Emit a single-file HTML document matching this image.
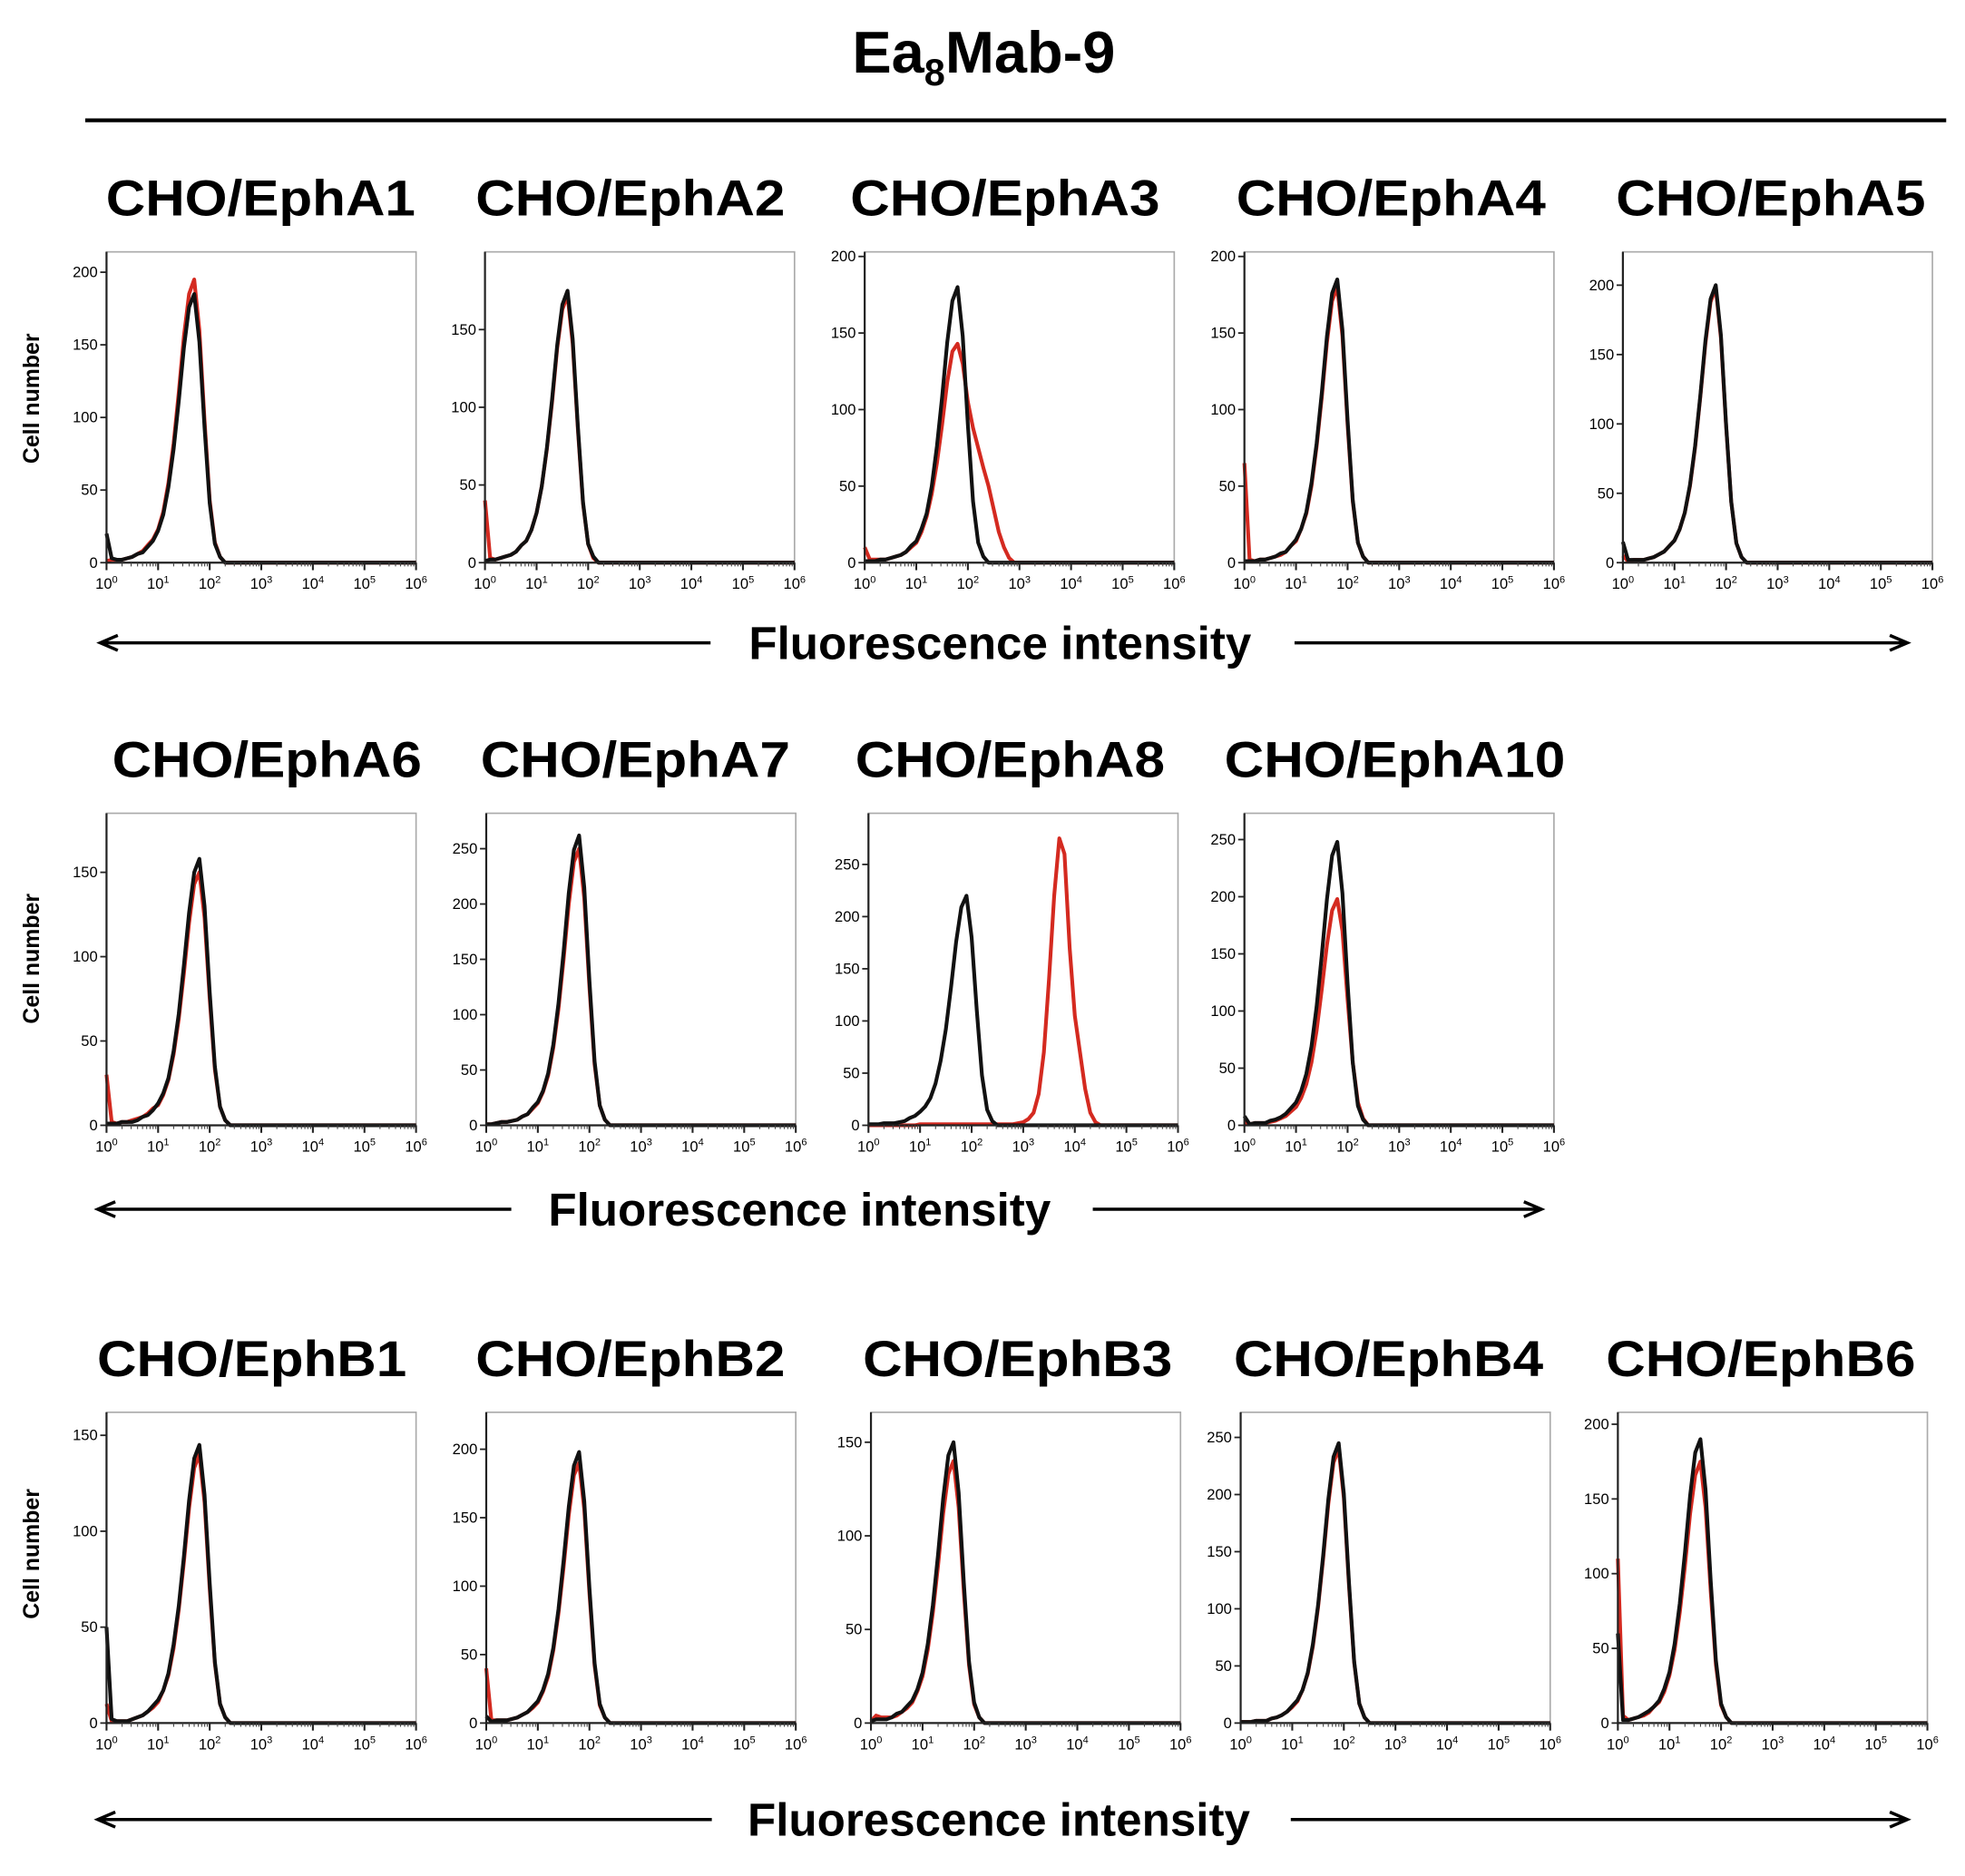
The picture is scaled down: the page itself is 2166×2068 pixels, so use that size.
<!DOCTYPE html>
<html><head><meta charset="utf-8"><title>Ea8Mab-9 flow cytometry</title>
<style>html,body{margin:0;padding:0;background:#fff}svg{display:block}</style></head>
<body>
<svg id="fig" xmlns="http://www.w3.org/2000/svg" width="2166" height="2068" viewBox="0 0 1568 1497.05" font-family="Liberation Sans, Arial, sans-serif">
<rect width="1568" height="1497.05" fill="#fff"/>
<text x="785" y="58" text-anchor="middle" font-size="47" font-weight="bold">Ea<tspan font-size="30" dy="10">8</tspan><tspan dy="-10">Mab-9</tspan></text>
<line x1="68" y1="96" x2="1553" y2="96" stroke="#000" stroke-width="3"/>
<g id="plots"></g>
</svg>
<script>
// log10 fluorescence bins, step 0.1 decade, starting at 10^0
const binLog = [0,0.1,0.2,0.3,0.4,0.5,0.6,0.7,0.8,0.9,1,1.1,1.2,1.3,1.4,1.5,1.6,1.7,1.8,1.9,2,2.1,2.2,2.3,2.4,2.5,2.6,2.7,2.8,2.9,3,3.1,3.2,3.3,3.4,3.5,3.6,3.7,3.8,3.9,4,4.1,4.2,4.3,4.4,4.5];
const xTickExp = ["0","1","2","3","4","5","6"];

const a1Red   = [1,2,2,2,3,4,6,8,12,16,23,35,55,82,117,156,185,195,160,98,43,14,4,0];
const a1Black = [20,3,2,2,3,4,6,7,11,15,22,33,52,78,111,148,176,185,152,93,41,13,4,0];
const a2Red   = [40,3,2,3,4,5,7,11,14,21,32,49,73,103,138,163,172,141,86,38,12,3,0];
const a2Black = [1,2,2,3,4,5,7,11,14,21,32,49,74,105,140,166,175,144,88,39,12,4,0];
const a3Red   = [10,2,2,2,2,3,4,5,7,10,13,20,30,45,65,90,118,138,143,130,105,88,75,62,50,35,20,10,3,0];
const a3Black = [1,1,1,2,2,3,4,5,7,11,14,22,32,50,76,108,144,171,180,148,90,40,13,4,0];
const a4Red   = [65,2,1,2,2,3,4,5,7,11,14,22,32,50,76,108,144,171,180,148,90,40,13,4,0];
const a4Black = [1,1,1,2,2,3,4,6,7,11,15,22,33,52,78,111,148,176,185,152,93,41,13,4,0];
const a5Red   = [5,1,2,2,2,3,4,6,8,12,16,24,36,55,83,119,158,188,198,162,99,44,14,4,0];
const a5Black = [15,2,2,2,2,3,4,6,8,12,16,24,36,56,84,120,160,190,200,164,100,44,14,4,0];
const a6Red   = [30,2,1,2,2,3,4,5,7,10,12,18,27,42,63,90,120,143,150,123,75,33,11,3,0];
const a6Black = [1,1,1,2,2,2,3,5,6,9,13,19,28,44,66,95,126,150,158,130,79,35,11,3,0];
const a7Red   = [1,1,2,3,3,4,5,8,10,15,20,30,45,70,105,150,200,238,250,205,125,55,18,5,0];
const a7Black = [1,1,2,3,3,4,5,8,10,16,21,31,47,73,110,157,210,249,262,215,131,58,18,5,0];
const a8Red   = [0,0,0,0,0,0,0,0,0,0,1,1,1,1,1,1,1,1,1,1,1,1,1,1,1,1,1,1,1,2,3,6,12,30,70,140,220,275,260,170,105,70,35,12,3,0];
const a8Black = [1,1,1,2,2,2,3,4,7,9,13,18,26,40,62,92,132,176,209,220,180,110,48,15,4,0];
const a10Red  = [3,1,2,2,2,3,4,6,8,12,16,24,36,55,83,119,158,188,198,170,110,55,20,6,0];
const a10Black= [8,1,2,2,2,4,5,7,10,15,20,30,45,69,104,149,198,236,248,203,124,55,17,5,0];
const b1Red   = [10,1,1,1,1,2,3,4,6,8,11,17,25,39,59,84,112,133,140,115,70,31,10,3,0];
const b1Black = [50,2,1,1,1,2,3,4,6,9,12,17,26,41,61,87,116,138,145,119,73,32,10,3,0];
const b2Red   = [40,2,2,2,2,3,4,6,8,11,15,23,34,53,80,114,152,181,190,156,95,42,13,4,0];
const b2Black = [5,1,2,2,2,3,4,6,8,12,16,24,36,55,83,119,158,188,198,162,99,44,14,4,0];
const b3Red   = [1,4,3,3,3,4,6,8,11,17,25,39,59,84,112,133,140,115,70,31,10,3,0];
const b3Black = [1,2,2,2,3,5,6,9,12,18,27,42,63,90,120,143,150,123,75,33,11,3,0];
const b4Red   = [1,1,1,2,2,2,4,5,7,10,14,19,29,43,67,101,144,192,228,240,197,120,53,17,5,0];
const b4Black = [1,1,1,2,2,2,4,5,7,10,15,20,29,44,69,103,147,196,233,245,201,123,54,17,5,0];
const b6Red   = [110,5,2,3,4,5,7,11,14,21,32,49,74,105,140,166,175,144,88,39,12,4,0];
const b6Black = [60,2,2,3,4,6,8,11,15,23,34,53,80,114,152,181,190,156,95,42,13,4,0];

const panelTitles = ["CHO/EphA1","CHO/EphA2","CHO/EphA3","CHO/EphA4","CHO/EphA5","CHO/EphA6","CHO/EphA7","CHO/EphA8","CHO/EphA10","CHO/EphB1","CHO/EphB2","CHO/EphB3","CHO/EphB4","CHO/EphB6"];
const panelYMax = [214,200,203,203,224,185,282,299,273,162,227,166,272,208];
const panelYTop = [200,150,200,200,200,150,250,250,250,150,200,150,250,200];
const redSeries = [a1Red,a2Red,a3Red,a4Red,a5Red,a6Red,a7Red,a8Red,a10Red,b1Red,b2Red,b3Red,b4Red,b6Red];
const blackSeries = [a1Black,a2Black,a3Black,a4Black,a5Black,a6Black,a7Black,a8Black,a10Black,b1Black,b2Black,b3Black,b4Black,b6Black];

// layout (viewBox units)
const layout = [
 {l:85,t:201,b:449,tc:208},{l:387,t:201,b:449,tc:503},{l:690,t:201,b:449,tc:802},{l:993,t:201,b:449,tc:1110},{l:1295,t:201,b:449,tc:1413},
 {l:85,t:649,b:898,tc:213},{l:388,t:649,b:898,tc:507},{l:693,t:649,b:898,tc:806},{l:993,t:649,b:898,tc:1113},
 {l:85,t:1127,b:1375,tc:201},{l:388,t:1127,b:1375,tc:503},{l:695,t:1127,b:1375,tc:812},{l:990,t:1127,b:1375,tc:1108},{l:1291,t:1127,b:1375,tc:1405}
];
const W = 247;
const NS = "http://www.w3.org/2000/svg";
const root = document.getElementById('plots');
function mk(tag, attrs, parent){const e=document.createElementNS(NS,tag);for(const k in attrs)e.setAttribute(k,attrs[k]);(parent||root).appendChild(e);return e;}

layout.forEach((L,i)=>{
  const g = mk('g',{});
  
  
  const xs = v => L.l + v/6*W;
  const ys = v => L.b - v/panelYMax[i]*(L.b-L.t);
  const tt = mk('text',{x:L.tc,y:L.t-29,'text-anchor':'middle','font-size':'40','font-weight':'bold',textLength: panelTitles[i].length>9?272:247,lengthAdjust:'spacingAndGlyphs'},g);
  tt.textContent = panelTitles[i];
  
  
  const frame = mk('rect',{x:L.l,y:L.t,width:W,height:L.b-L.t,fill:'none',stroke:'#aaa','stroke-width':'1.2'},g);
  
  
  // series
  [[redSeries[i],'#d42a20'],[blackSeries[i],'#111']].forEach(([arr,col],si)=>{
    let d='';
    arr.forEach((v,k)=>{d+=(k?'L':'M')+xs(binLog[k]).toFixed(2)+','+ys(v).toFixed(2);});
    d+='L'+xs(6)+','+ys(0);
    const p = mk('path',{d:d,fill:'none',stroke:col,'stroke-width':'3','stroke-linejoin':'round'},g);
    
    
  });
  // axes
  const ax = mk('path',{d:`M${L.l},${L.t}V${L.b}H${L.l+W}`,fill:'none',stroke:'#222','stroke-width':'1.6'},g);
  
  
  for(let v=0; v<=panelYTop[i]; v+=50){
    mk('line',{x1:L.l-5,x2:L.l,y1:ys(v),y2:ys(v),stroke:'#222','stroke-width':'1.3'},g);
    const t = mk('text',{x:L.l-7,y:ys(v)+4,'text-anchor':'end','font-size':'12'},g);
    t.textContent = v;
    
    
  }
  xTickExp.forEach((e,k)=>{
    const x = xs(k);
    mk('line',{x1:x,x2:x,y1:L.b,y2:L.b+6,stroke:'#222','stroke-width':'1.5'},g);
    if(k<6){for(let m=2;m<10;m++){const xm=xs(k+Math.log10(m));mk('line',{x1:xm,x2:xm,y1:L.b,y2:L.b+3,stroke:'#444','stroke-width':'0.8'},g);}}
    const t = mk('text',{x:x,y:L.b+21,'text-anchor':'middle','font-size':'12'},g);
    t.innerHTML = '10<tspan font-size="8" dy="-5">'+e+'</tspan>';
    
    
  });
});

// row labels and arrows
const rows = [{cy:318,ay:513,tx:798,l1:[80,567],l2:[1033,1522]},{cy:765,ay:965,tx:638,l1:[78,408],l2:[872,1230]},{cy:1240,ay:1452,tx:797,l1:[78,568],l2:[1030,1522]}];
rows.forEach(r=>{
  const c = mk('text',{x:0,y:0,transform:`translate(31,${r.cy}) rotate(-90)`,'text-anchor':'middle','font-size':'18','font-weight':'bold'});
  c.textContent='Cell number';
  
  
  const f = mk('text',{x:r.tx,y:r.ay+13,'text-anchor':'middle','font-size':'37','font-weight':'bold'});
  f.textContent='Fluorescence intensity';
  
  
  const a1 = mk('path',{d:`M${r.l1[1]},${r.ay}H${r.l1[0]+2}M${r.l1[0]+14},${r.ay-6}L${r.l1[0]},${r.ay}L${r.l1[0]+14},${r.ay+6}`,fill:'none',stroke:'#000','stroke-width':'2.5'});
  
  
  const a2 = mk('path',{d:`M${r.l2[0]},${r.ay}H${r.l2[1]-2}M${r.l2[1]-14},${r.ay-6}L${r.l2[1]},${r.ay}L${r.l2[1]-14},${r.ay+6}`,fill:'none',stroke:'#000','stroke-width':'2.5'});
  
  
});
</script>
</body></html>
